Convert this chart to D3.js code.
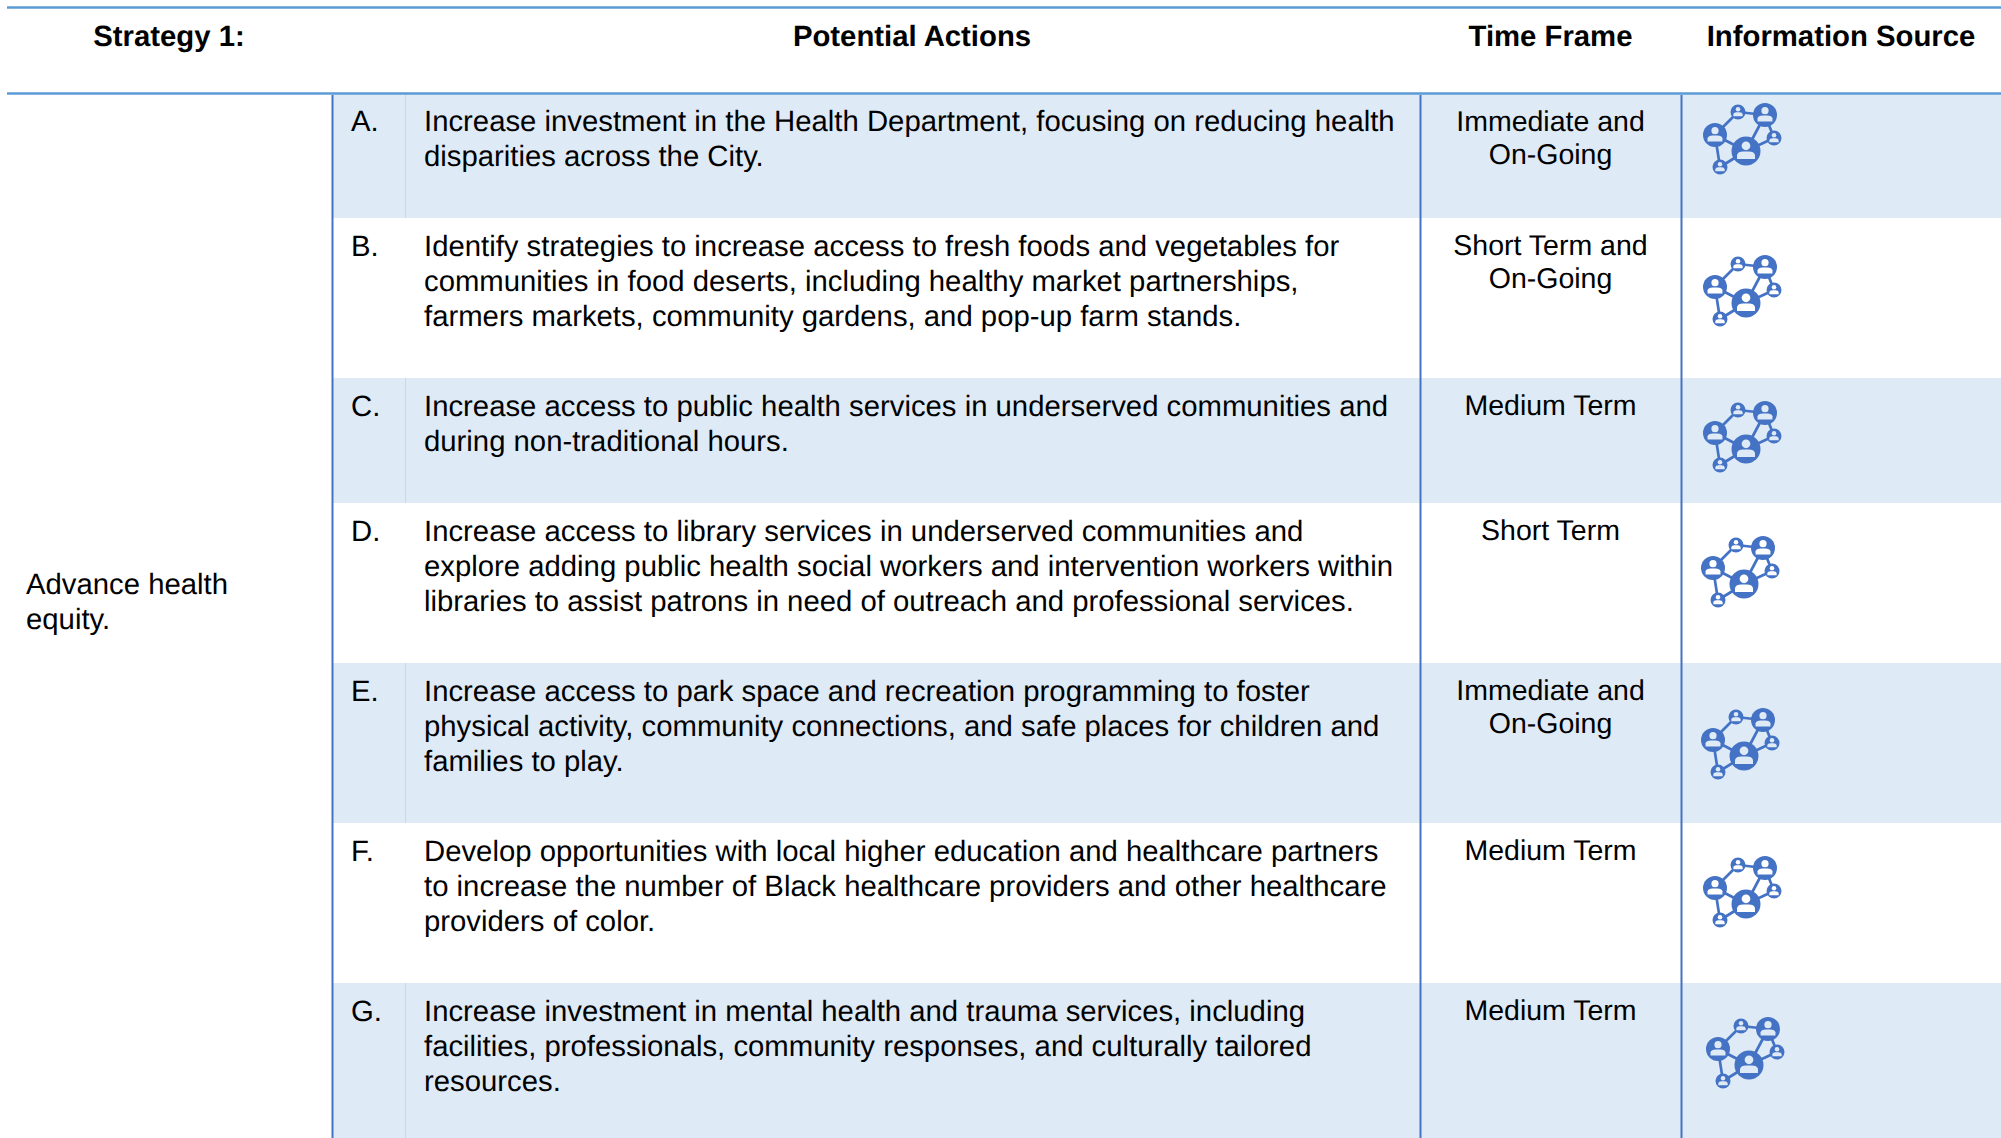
<!DOCTYPE html>
<html>
<head>
<meta charset="utf-8">
<script src="https://cdn.jsdelivr.net/npm/d3@7"></script>
<style>
  html, body { margin: 0; padding: 0; background: #fff; overflow: hidden; }
  text { font-family: "Liberation Sans", Arial, sans-serif; fill: #000; text-rendering: geometricPrecision; }
</style>
</head>
<body>
<div id="chart"></div>
<script>
// table of potential actions, wrapped by hand to match the source layout

const headers = ['Strategy 1:', 'Potential Actions', 'Time Frame', 'Information Source'];
const strategyLines = ['Advance health', 'equity.'];
const letters = ['A.', 'B.', 'C.', 'D.', 'E.', 'F.', 'G.'];
const actions = [
  ['Increase investment in the Health Department, focusing on reducing health', 'disparities across the City.'],
  ['Identify strategies to increase access to fresh foods and vegetables for', 'communities in food deserts, including healthy market partnerships,', 'farmers markets, community gardens, and pop-up farm stands.'],
  ['Increase access to public health services in underserved communities and', 'during non-traditional hours.'],
  ['Increase access to library services in underserved communities and', 'explore adding public health social workers and intervention workers within', 'libraries to assist patrons in need of outreach and professional services.'],
  ['Increase access to park space and recreation programming to foster', 'physical activity, community connections, and safe places for children and', 'families to play.'],
  ['Develop opportunities with local higher education and healthcare partners', 'to increase the number of Black healthcare providers and other healthcare', 'providers of color.'],
  ['Increase investment in mental health and trauma services, including', 'facilities, professionals, community responses, and culturally tailored', 'resources.'],
];
const timeFrames = [
  ['Immediate and', 'On-Going'],
  ['Short Term and', 'On-Going'],
  ['Medium Term'],
  ['Short Term'],
  ['Immediate and', 'On-Going'],
  ['Medium Term'],
  ['Medium Term'],
];

// icon artwork: people nodes and the links between them
const iconNodes = [
  { id: 'hub', r: 14.5 }, { id: 'topRight', r: 12 }, { id: 'left', r: 12 },
  { id: 'top', r: 7.5 }, { id: 'right', r: 7.5 }, { id: 'bottom', r: 7.5 },
];
const iconLinks = [['left', 'top'], ['top', 'topRight'], ['topRight', 'hub'], ['topRight', 'right'],
  ['right', 'hub'], ['hub', 'bottom'], ['bottom', 'left'], ['left', 'hub']];

const WIDTH = 2001;
const HEIGHT = 1138;
const BLUE = '#4472c4';
const RULE = '#5b9bd5';
const BAND = '#deeaf6';
const FONT = 29.3;
const TIME_FONT = 28.5;
const LINE = 35;

const rowEdges = [94, 218, 378, 503, 663, 823, 983, 1138];
const nodePos = { hub: [86, 48], topRight: [105, 12], left: [55, 32], top: [78, 9], right: [114, 35], bottom: [60, 64] };
const iconOffset = [[0, 0], [0, 152], [0, 298], [-2, 433], [-2, 605], [0, 753], [3, 914]];

const rowScale = d3.scaleOrdinal().domain(letters).range(rowEdges.slice(0, -1));
const rowBottom = d3.scaleOrdinal().domain(letters).range(rowEdges.slice(1));

const svg = d3.select('#chart').append('svg')
  .attr('width', WIDTH)
  .attr('height', HEIGHT)
  .style('display', 'block');

// shaded bands
svg.append('g').selectAll('rect')
  .data(letters.filter((d, i) => i % 2 === 0))
  .enter()
  .append('rect')
  .attr('x', 333)
  .attr('y', d => rowScale(d))
  .attr('width', WIDTH - 333)
  .attr('height', d => rowBottom(d) - rowScale(d))
  .attr('fill', BAND);

// faint divider between letter and text, only on shaded rows
svg.append('g').selectAll('line')
  .data(letters.filter((d, i) => i % 2 === 0))
  .enter()
  .append('line')
  .attr('x1', 405.5).attr('x2', 405.5)
  .attr('y1', d => rowScale(d))
  .attr('y2', d => rowBottom(d))
  .attr('stroke', '#c5d9ee')
  .attr('stroke-width', 1);

// rules
[7.5, 93.5].forEach(y => {
  svg.append('line').attr('x1', 7).attr('x2', WIDTH).attr('y1', y).attr('y2', y)
    .attr('stroke', RULE).attr('stroke-width', 2.5);
});
[332.5, 1420.5, 1681.5].forEach(x => {
  svg.append('line').attr('x1', x).attr('x2', x).attr('y1', 95).attr('y2', HEIGHT)
    .attr('stroke', BLUE).attr('stroke-width', 2);
});

// header
const headerX = [169, 912, 1550.5, 1841];
svg.append('g').selectAll('text')
  .data(headers)
  .enter()
  .append('text')
  .attr('x', (d, i) => headerX[i])
  .attr('y', 46)
  .attr('text-anchor', 'middle')
  .attr('font-weight', 'bold')
  .attr('font-size', FONT)
  .text(d => d);

function addLines(g, lines, x, y, anchor) {
  g.selectAll('text')
    .data(lines)
    .enter()
    .append('text')
    .attr('x', x)
    .attr('y', (d, i) => y + i * LINE)
    .attr('text-anchor', anchor)
    .attr('font-size', FONT)
    .text(d => d);
}

addLines(svg.append('g'), strategyLines, 26, 594, 'start');

const rows = svg.append('g').selectAll('g')
  .data(letters)
  .enter()
  .append('g')
  .each(function (d, i) {
    const g = d3.select(this);
    const top = rowScale(d);
    const glyph = i % 2 === 0 ? BAND : '#fff';
    g.append('text').attr('x', 351).attr('y', top + 38 - (i === 0 ? 0.6 : 0)).attr('font-size', FONT).text(d);
    addLines(g.append('g'), actions[i], 424, top + 38 - (i === 0 ? 0.6 : 0), 'start');
    const tf = g.append('g');
    tf.selectAll('text')
      .data(timeFrames[i])
      .enter()
      .append('text')
      .attr('x', 1550.5)
      .attr('y', (t, j) => top + 37 + j * 33)
      .attr('text-anchor', 'middle')
      .attr('font-size', TIME_FONT)
      .text(t => t);
    drawIcon(g.append('g').attr('transform', `translate(${1660 + iconOffset[i][0]},${103 + iconOffset[i][1]})`), glyph);
  });

function drawIcon(g, glyph) {
  g.selectAll('line')
    .data(iconLinks)
    .enter()
    .append('line')
    .attr('x1', d => nodePos[d[0]][0])
    .attr('y1', d => nodePos[d[0]][1])
    .attr('x2', d => nodePos[d[1]][0])
    .attr('y2', d => nodePos[d[1]][1])
    .attr('stroke', BLUE)
    .attr('stroke-width', 2.7);

  const n = g.selectAll('g')
    .data(iconNodes)
    .enter()
    .append('g')
    .attr('transform', d => `translate(${nodePos[d.id][0]},${nodePos[d.id][1]})`);
  n.append('circle').attr('r', d => d.r).attr('fill', BLUE);
  // little person: head and shoulders
  n.append('circle').attr('cy', d => -d.r * 0.36).attr('r', d => d.r * 0.3).attr('fill', glyph);
  n.append('path')
    .attr('d', d => {
      const r = d.r;
      return `M${-r * 0.62},${r * 0.55} L${-r * 0.62},${r * 0.28} Q${-r * 0.55},${r * 0.04} ${-r * 0.2},${r * 0.04} L${r * 0.2},${r * 0.04} Q${r * 0.55},${r * 0.04} ${r * 0.62},${r * 0.28} L${r * 0.62},${r * 0.55} Z`;
    })
    .attr('fill', glyph);
}
</script>
</body>
</html>
